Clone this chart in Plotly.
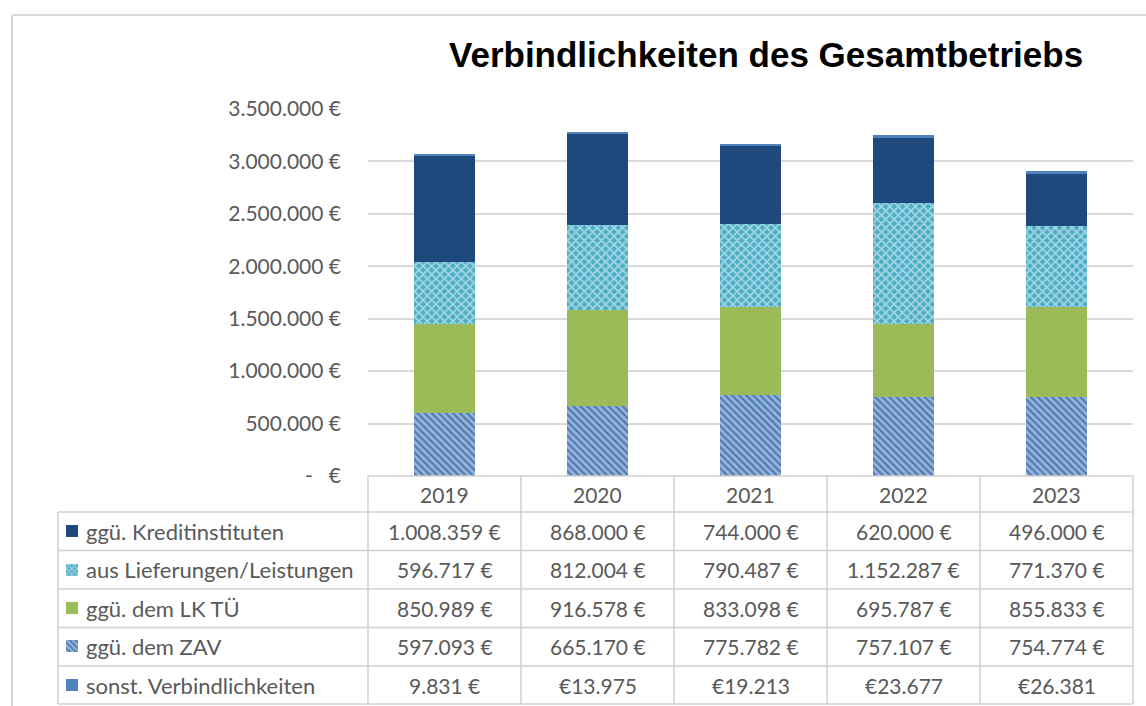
import plotly.graph_objects as go

W, H = 1146, 706

years = ["2019", "2020", "2021", "2022", "2023"]
kredit = [1008359, 868000, 744000, 620000, 496000]
liefer = [596717, 812004, 790487, 1152287, 771370]
lktue = [850989, 916578, 833098, 695787, 855833]
zav = [597093, 665170, 775782, 757107, 754774]
sonst = [9831, 13975, 19213, 23677, 26381]
sonst_style = ["suffix", "prefix", "prefix", "prefix", "prefix"]

row_names = ["ggü. Kreditinstituten", "aus Lieferungen/Leistungen", "ggü. dem LK TÜ",
             "ggü. dem ZAV", "sonst. Verbindlichkeiten"]
y_ticks = [0, 500000, 1000000, 1500000, 2000000, 2500000, 3000000, 3500000]

title = "Verbindlichkeiten des Gesamtbetriebs"

C_KREDIT = "#1F497D"
C_LIEF = "#4BACC6"
C_LK = "#9BBB59"
C_ZAV = "#8DB3E2"
C_SONST = "#4F81BD"
TXT = "#595959"
GRID = "#d9d9d9"
TLINE = "#d0d0d0"
FONT = "Lato, Carlito, Calibri, sans-serif"
NUM_SIZE = 21
LBL_SIZE = 22


def px(x):
    return x / W


def py(y):
    return 1 - y / H


def de(v):
    return f"{v:,.0f}".replace(",", ".") + " €"


def de_pref(v):
    return "€" + f"{v:,.0f}".replace(",", ".")


def tick_label(v):
    return "-   €" if v == 0 else de(v)


patterns = {
    "zav": dict(shape="\\", fgcolor="#17375E", bgcolor=C_ZAV, size=5, solidity=0.4, fillmode="overlay"),
    "liefer": dict(shape="x", fgcolor="#ffffff", bgcolor=C_LIEF, size=6, solidity=0.5, fillmode="overlay"),
}

xs = list(range(len(years)))
fig = go.Figure()
stack = [
    (row_names[3], zav, C_ZAV, patterns["zav"]),
    (row_names[2], lktue, C_LK, None),
    (row_names[1], liefer, C_LIEF, patterns["liefer"]),
    (row_names[0], kredit, C_KREDIT, None),
    (row_names[4], sonst, C_SONST, None),
]
for name, vals, col, pat in stack:
    marker = dict(color=col, line=dict(width=0))
    if pat:
        marker["pattern"] = pat
    fig.add_trace(go.Bar(x=xs, y=vals, name=name, width=0.4, marker=marker,
                         xaxis="x", yaxis="y", showlegend=False))

# legend keys in the data table (overlay axes)
key_cols = [C_KREDIT, C_LIEF, C_LK, C_ZAV, C_SONST]
key_pats = [None, patterns["liefer"], None, patterns["zav"], None]
for i, name in enumerate(row_names):
    marker = dict(color=key_cols[i], line=dict(width=0))
    if key_pats[i]:
        p = dict(key_pats[i])
        p["size"] = 4
        marker["pattern"] = p
    fig.add_trace(go.Bar(y=[i], x=[1], orientation="h", width=0.31, marker=marker,
                         xaxis="x2", yaxis="y2", showlegend=False, hoverinfo="skip"))

PLOT_L, PLOT_R = 368, 1133
PLOT_B, PLOT_T = 476, 109
ROW_Y = [512, 550.5, 589, 627.5, 666, 704]
TAB_L = 58

fig.update_layout(
    width=W, height=H,
    margin=dict(l=0, r=0, t=0, b=0, pad=0, autoexpand=False),
    paper_bgcolor="white", plot_bgcolor="white",
    barmode="stack",
    showlegend=False,
    xaxis=dict(domain=[px(PLOT_L), px(PLOT_R)], range=[-0.5, 4.5], automargin=False,
               showticklabels=False, showgrid=False, zeroline=False, fixedrange=True),
    yaxis=dict(domain=[py(PLOT_B), py(PLOT_T)], range=[0, 3500000], automargin=False,
               tickvals=y_ticks, ticktext=[tick_label(v) for v in y_ticks],
               tickfont=dict(family=FONT, size=NUM_SIZE, color=TXT),
               showgrid=True, gridcolor=GRID, gridwidth=2, zeroline=False,
               ticks="", ticklabelstandoff=26, showline=False),
    xaxis2=dict(domain=[px(66), px(78)], range=[0, 1], visible=False, anchor="y2", automargin=False),
    yaxis2=dict(domain=[py(ROW_Y[-1]), py(ROW_Y[0])], range=[4.5, -0.5], visible=False,
                anchor="x2", automargin=False),
)

shapes = []
shapes.append(dict(type="line", xref="paper", yref="paper", x0=px(12), x1=1.0, y0=py(15), y1=py(15),
                   line=dict(color=GRID, width=2)))
shapes.append(dict(type="line", xref="paper", yref="paper", x0=px(12), x1=px(12), y0=py(15), y1=0,
                   line=dict(color=GRID, width=2)))
lw = dict(color=TLINE, width=1.5)
shapes.append(dict(type="line", xref="paper", yref="paper", x0=px(PLOT_L), x1=px(PLOT_R),
                   y0=py(PLOT_B), y1=py(PLOT_B), line=lw))
for yy in ROW_Y:
    shapes.append(dict(type="line", xref="paper", yref="paper", x0=px(TAB_L), x1=px(PLOT_R),
                       y0=py(yy), y1=py(yy), line=lw))
shapes.append(dict(type="line", xref="paper", yref="paper", x0=px(TAB_L), x1=px(TAB_L),
                   y0=py(ROW_Y[0]), y1=py(ROW_Y[-1]), line=lw))
for i in range(len(years) + 1):
    xb = PLOT_L + i * (PLOT_R - PLOT_L) / len(years)
    shapes.append(dict(type="line", xref="paper", yref="paper", x0=px(xb), x1=px(xb),
                       y0=py(PLOT_B), y1=py(ROW_Y[-1]), line=lw))

ann = []
ann.append(dict(text=f"<b>{title}</b>", xref="paper", yref="paper", x=px(766), y=py(54),
                showarrow=False, xanchor="center", yanchor="middle",
                font=dict(family="Liberation Sans Narrow, Arial Narrow, Liberation Sans, Arial", size=35, color="black")))
for i, yr in enumerate(years):
    ann.append(dict(text=yr, xref="x", yref="paper", x=i, y=py((PLOT_B + ROW_Y[0]) / 2),
                    showarrow=False, xanchor="center", yanchor="middle",
                    font=dict(family=FONT, size=NUM_SIZE, color=TXT)))
rows = [kredit, liefer, lktue, zav, sonst]
for r, (name, vals) in enumerate(zip(row_names, rows)):
    yc = py((ROW_Y[r] + ROW_Y[r + 1]) / 2)
    ann.append(dict(text=name, xref="paper", yref="paper", x=px(84), y=yc, showarrow=False,
                    xanchor="left", yanchor="middle", font=dict(family=FONT, size=LBL_SIZE, color=TXT)))
    for i, v in enumerate(vals):
        if r == 4 and sonst_style[i] == "prefix":
            t = de_pref(v)
        else:
            t = de(v)
        ann.append(dict(text=t, xref="x", yref="paper", x=i, y=yc, showarrow=False,
                        xanchor="center", yanchor="middle", font=dict(family=FONT, size=NUM_SIZE, color=TXT)))

fig.update_layout(shapes=shapes, annotations=ann)
fig.write_html("out.html")
